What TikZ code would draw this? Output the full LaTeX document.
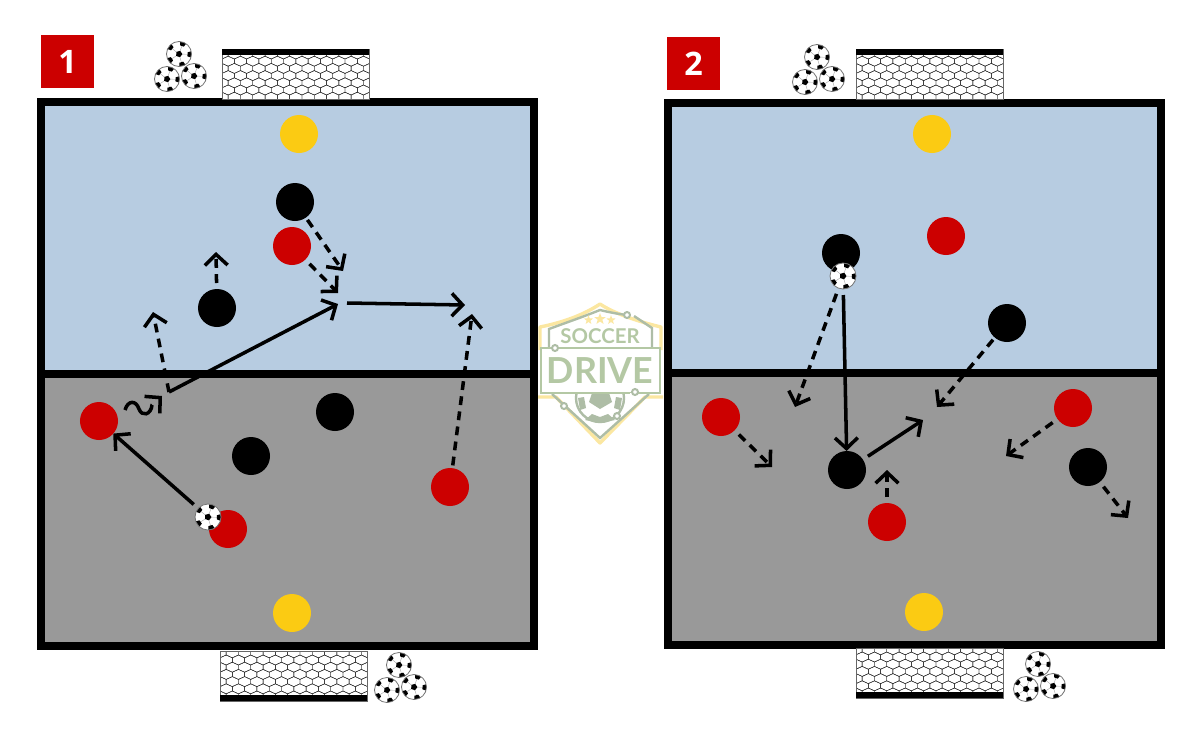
\documentclass[tikz,border=0pt]{standalone}
\usepackage{fontspec}
\setmainfont{Open Sans}
\newfontfamily\logofont{Lato}
\usetikzlibrary{positioning,arrows.meta,shapes.geometric}
\definecolor{sky}{HTML}{B7CCE1}
\definecolor{turf}{HTML}{999999}
\definecolor{acc}{HTML}{CC0000}
\definecolor{gold}{HTML}{FBCB13}
\definecolor{crest}{HTML}{B4C8A4}
\definecolor{crestline}{HTML}{AEBDA6}
\definecolor{crestgold}{HTML}{FBE7A1}
\begin{document}
\begin{tikzpicture}[x=0.025cm, y=-0.025cm,
  pitch/.style={draw, line width=0.19cm, fill=sky},
  badge/.style={fill=acc, text=white, minimum size=1.325cm, inner sep=0pt, font=\fontsize{23}{23}\selectfont\bfseries},
  player/.style={circle, minimum size=0.95cm, inner sep=0pt, outer sep=0pt},
  redp/.style={player, fill=acc},
  blk/.style={player, fill=black},
  keeper/.style={player, fill=gold},
  ball/.style={circle, draw=black!55, line width=0.02cm, fill=white, minimum size=#1*0.05cm, inner sep=0pt, outer sep=0pt,
    path picture={\begin{scope}[shift={(path picture bounding box.center)}]
      \pgfmathsetlengthmacro{\rin}{0.27*#1*0.025cm}
      \pgfmathsetlengthmacro{\rout}{0.9*#1*0.025cm}
      \pgfmathsetlengthmacro{\rpat}{0.27*#1*0.025cm}
      \pgfmathsetlengthmacro{\spat}{1.1756*0.27*#1*0.025cm}
      \foreach \a in {70,142,214,286,358} {
        \draw[black!35, line width=0.01cm] (\a:\rin) -- (\a:\rout);
        \fill[black] (\a:\rout) ++(\a:\rpat) -- ++({\a+126}:\spat) -- ++({\a+198}:\spat) -- ++({\a+270}:\spat) -- ++({\a+342}:\spat) -- cycle;
      }
      \fill[black] (70:\rin) -- (142:\rin) -- (214:\rin) -- (286:\rin) -- (358:\rin) -- cycle;
    \end{scope}}},
  ball/.default=13,
  pile/.pic={
    \node[ball=12.5] (-a) at (0,0) {};
    \node[ball=12.5] (-b) at (-12,25) {};
    \node[ball=12.5] (-c) at (15,22) {};
  },
  net/.pic={
    \begin{scope}
      \clip (0,0) rectangle (147,50);
      \fill[white] (0,0) rectangle (147,50);
      \foreach \r in {0,...,7} \foreach \c in {0,...,12} {
        \pgfmathsetmacro{\cx}{\c*12.3+mod(\r,2)*6.15}
        \pgfmathsetmacro{\cy}{5+\r*7.2}
        \draw[black!85, line width=0.01cm, shift={(\cx,\cy)}] (0,-5) -- (6.15,-2.2) -- (6.15,2.2) -- (0,5) -- (-6.15,2.2) -- (-6.15,-2.2) -- cycle;
      }
    \end{scope}
    \draw[black!60, line width=0.025cm] (0,0) rectangle (147,50);
    \fill[black] (0,0) rectangle (147,6);
  },
  pass/.style={line width=0.088cm, -{Straight Barb[length=0.27cm,width=0.57cm]}, shorten <=0.15cm},
  run/.style={pass, dash pattern=on 0.22cm off 0.16cm},
  close/.style={shorten <=0.07cm}]
\useasboundingbox (0,0) rectangle (1200,750);
% pitches
\draw[pitch] (41,102) rectangle (534,646);
\fill[turf] (41,374) rectangle (534,646);
\draw[line width=0.19cm] (41,102) rectangle (534,646);
\draw[line width=0.19cm] (41,374) -- (534,374);
\draw[pitch] (668,103) rectangle (1161,645);
\fill[turf] (668,373) rectangle (1161,645);
\draw[line width=0.19cm] (668,103) rectangle (1161,645);
\draw[line width=0.19cm] (668,373) -- (1161,373);
% badges
\node[badge] (one) at (67.5,61.5) {1};
\node[badge] (two) at (693.5,63.5) {2};
% goals and balls
\pic at (222,49) {net};
\pic[yscale=-1] at (220,701) {net};
\pic at (856,49) {net};
\pic[yscale=-1] at (856,698) {net};
\pic (pilea) at (179,54) {pile};
\pic (pileb) at (399,665) {pile};
\pic (pilec) at (817,57) {pile};
\pic (piled) at (1038,664) {pile};
% logo
\fill[white] (600,304) -- (660,327) -- (662,397) -- (600,443) -- (539,397) -- (540,327) -- cycle;
\draw[crestgold, line width=0.085cm, line join=round] (540,350) -- (540,327) .. controls (565,322) and (585,314) .. (600,304) .. controls (615,314) and (640,322) .. (661,327) -- (661,350);
\draw[crestgold, line width=0.085cm, line join=round] (538,397) -- (556,397) -- (600,443) -- (645,397) -- (663,397);
\draw[crestline, line width=0.06cm] (627,315) .. controls (618,314) and (608,312) .. (600,310) .. controls (580,318) and (565,323) .. (549,329) -- (549,348);
\draw[crestline, line width=0.06cm] (634,316) -- (652,328) -- (652,348);
\draw[crestline, line width=0.06cm] (552,394) -- (600,438) -- (649,394);
\draw[crestline, line width=0.06cm, fill=white] (600,398) circle (24);
\fill[crestline] (592,393) -- (609,393) -- (612,402) -- (600,409) -- (589,402) -- cycle;
\fill[crestline] (585,420) -- (592,414) -- (600,417) -- (608,414) -- (615,420) -- (600,423) -- cycle;
\fill[crestline] (578,398) -- (584,397) -- (586,408) -- (580,410) -- cycle;
\fill[crestline] (622,398) -- (616,397) -- (614,408) -- (620,410) -- cycle;
\draw[white, fill=white] (540,348) rectangle (660,393);
\draw[crest, line width=0.07cm] (541,348) rectangle (660,393);
\fill[white] (630,393) rectangle (638,395);
\foreach \x/\y in {627/315, 555/348, 635/392, 564/406, 617/416} \draw[crestline, line width=0.05cm, fill=white] (\x,\y) circle (3);
\foreach \x/\y/\s in {588.5/320/0.24cm, 600/319/0.3cm, 611/320/0.24cm}
  \node[star, star points=5, star point ratio=2.4, fill=crestgold, inner sep=0pt, minimum size=\s] at (\x,\y) {};
\node[text=crest, inner sep=0pt, font=\logofont\fontsize{14.5}{14.5}\selectfont\bfseries] (soccer) at (600,336.5) {SOCCER};
\node[text=crest, inner sep=0pt, font=\logofont\fontsize{25.5}{25.5}\selectfont\bfseries] (drive) at (600,371) {DRIVE};
% panel 1 players
\node[keeper] (ka) at (299,134) {};
\node[keeper] (kb) at (292,613) {};
\node[blk] (b1) at (295,202) {};
\node[blk] (b2) at (217,308) {};
\node[blk] (b3) at (335,412) {};
\node[blk] (b4) at (251,456) {};
\node[redp] (r1) at (292,246) {};
\node[redp] (r2) at (99,421) {};
\node[redp] (r3) at (228,529) {};
\node[redp] (r4) at (450,487) {};
\node[ball] (ball1) at (208,517) {};
% panel 2 players
\node[keeper] (kc) at (932,134) {};
\node[keeper] (kd) at (924,612) {};
\node[blk] (b5) at (841,253) {};
\node[blk] (b6) at (1007,323) {};
\node[blk] (b7) at (847,470) {};
\node[blk] (b8) at (1088,467) {};
\node[redp] (r5) at (946,236) {};
\node[redp] (r6) at (721,417) {};
\node[redp] (r7) at (1073,408) {};
\node[redp] (r8) at (887,522) {};
\node[ball] (ball2) at (843,276) {};
% free ends
\coordinate (turn) at (169,392);
\coordinate (up1) at (153,312);
\coordinate (up2) at (216,252);
\coordinate (meet1) at (343,271);
\coordinate (meet2) at (338,293);
\coordinate (meet3) at (338,304);
\coordinate (go1) at (347,303);
\coordinate (go2) at (465,305);
\coordinate (go3) at (472,314);
\coordinate (dribs) at (125,410);
\coordinate (dribe) at (162,396);
\coordinate (down1) at (795,407);
\coordinate (out1) at (923,420);
\coordinate (down2) at (937,407);
\coordinate (up3) at (887,470);
\coordinate (down3) at (772,467);
\coordinate (down4) at (1006,456);
\coordinate (down5) at (1128,518);
% panel 1 arrows
\draw[pass] (ball1) -- (r2);
\draw[pass, shorten <=0pt, dash pattern=on 1.05cm off 2cm] (dribs) .. controls (128,400) and (136,400) .. (139,409) .. controls (142,417) and (151,415) .. (152,405) -- (dribe);
\draw[pass, shorten <=0pt] (turn) -- (meet3);
\draw[run, shorten <=0pt] (turn) -- (up1);
\draw[run] (b2) -- (up2);
\draw[run, close] (b1) -- (meet1);
\draw[run] (r1) -- (meet2);
\draw[pass, shorten <=0pt] (go1) -- (go2);
\draw[run, close] (r4) -- (go3);
% panel 2 arrows
\draw[pass] (ball2) -- (b7);
\draw[run] (ball2) -- (down1);
\draw[pass] (b7) -- (out1);
\draw[run, close] (b6) -- (down2);
\draw[run] (r8) -- (up3);
\draw[run] (r6) -- (down3);
\draw[run] (r7) -- (down4);
\draw[run] (b8) -- (down5);
\end{tikzpicture}
\end{document}
